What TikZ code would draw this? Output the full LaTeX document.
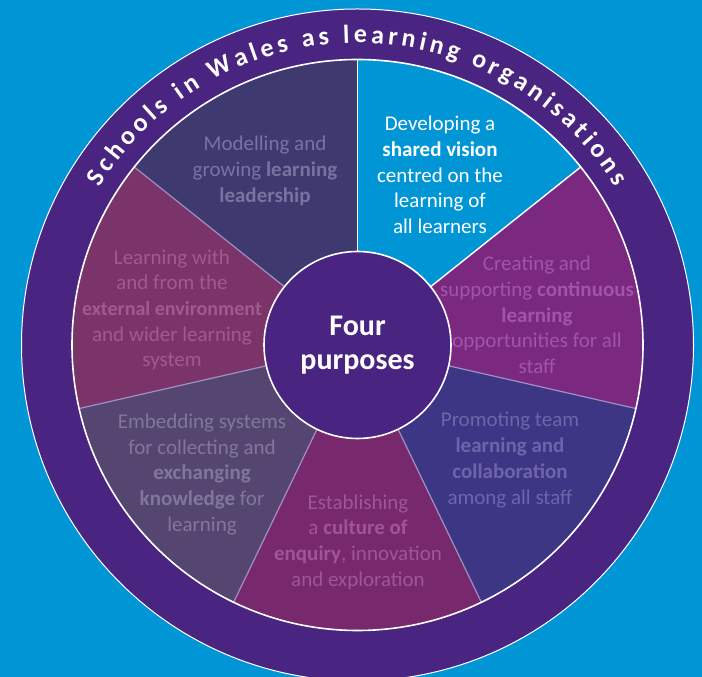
\documentclass[tikz,border=0pt]{standalone}
\usepackage{fontspec}
\setmainfont{Carlito}
\usetikzlibrary{decorations.text}
\definecolor{walesblue}{HTML}{0096D6}
\definecolor{ringpurple}{HTML}{492480}
\definecolor{sectmodel}{HTML}{3E396E}
\definecolor{sectext}{HTML}{7A3469}
\definecolor{sectknow}{HTML}{544670}
\definecolor{sectenq}{HTML}{78286C}
\definecolor{sectteam}{HTML}{3C3684}
\definecolor{sectcontin}{HTML}{7B2880}
\definecolor{txtmodel}{HTML}{7873A0}
\definecolor{txtext}{HTML}{A05A8C}
\definecolor{txtknow}{HTML}{82769B}
\definecolor{txtenq}{HTML}{A05596}
\definecolor{txtteam}{HTML}{6E64AA}
\definecolor{txtcontin}{HTML}{A055AA}
\definecolor{linelav}{HTML}{A08FC4}
\begin{document}
\begin{tikzpicture}[x=1pt,y=1pt,
    wedgetext/.style={align=center, font=\fontsize{21}{25.7}\selectfont},
    divider/.style={draw=linelav, line width=1.2pt},
    hub/.style={circle, fill=ringpurple, draw=white, line width=1.6pt, minimum size=187, inner sep=0pt, text=white, align=center, font=\bfseries\fontsize{30}{34}\selectfont}]
    \useasboundingbox (0,0) rectangle (702,677);
    \fill[walesblue] (0,0) rectangle (702,677);
    \coordinate (C) at (357.5,332);
    %% outer ring
    \fill[ringpurple] (C) circle[radius=336];
    \draw[white, line width=1pt] (C) circle[radius=336];
    %% seven sectors
    \foreach \a/\c in {38.57/walesblue, 90/sectmodel, 141.43/sectext, 192.86/sectknow, 244.29/sectenq, 295.71/sectteam, 347.14/sectcontin}
        \fill[\c, shift={(C)}] (0,0) -- (\a:285.5) arc[start angle=\a, delta angle=51.43, radius=285.5] -- cycle;
    %% dividers
    \foreach \a in {141.43, 192.86, 244.29, 295.71, 347.14}
        \draw[divider, shift={(C)}] (\a:93) -- (\a:285.5);
    \draw[white, line width=1.4pt, shift={(C)}] (90:93) -- (90:285.5);
    \draw[white, line width=1.4pt, shift={(C)}] (38.57:93) -- (38.57:285.5);
    \draw[white, line width=1.6pt] (C) circle[radius=285.5];
    %% title along the ring
    \path[shift={(C)}, decorate, decoration={text along path, text align={fit to path},
        text={|\bfseries\fontsize{26}{26}\selectfont\color{white}|Schools in Wales as learning organisations}}]
        (148.5:302) arc[start angle=148.5, end angle=31.5, radius=302];
    %% hub
    \node[hub] (purposes) at (C) {Four\\purposes};
    %% sector texts
    \node[wedgetext, text=white] (vision) at (440,502) {Developing a\\\textbf{shared vision}\\centred on the\\learning of\\all learners};
    \node[wedgetext, text=txtmodel] (leader) at (265,506) {Modelling and\\growing \textbf{learning}\\\textbf{leadership}};
    \node[wedgetext, text=txtext] (extern) at (172,367) {Learning with\\and from the\\{\fontsize{20}{25.7}\selectfont\textbf{external environment}}\\and wider learning\\system};
    \node[wedgetext, text=txtknow] (knowl) at (202,202.5) {Embedding systems\\for collecting and\\\textbf{exchanging}\\\textbf{knowledge} for\\learning};
    \node[wedgetext, text=txtenq] (enquiry) at (358,135) {Establishing\\a \textbf{culture of}\\\textbf{enquiry}, innovation\\and exploration};
    \node[wedgetext, text=txtteam] (team) at (510,217) {Promoting team\\\textbf{learning and}\\\textbf{collaboration}\\among all staff};
    \node[wedgetext, text=txtcontin] (contin) at (537,362) {Creating and\\supporting \textbf{continuous}\\\textbf{learning}\\opportunities for all\\staff};
\end{tikzpicture}
\end{document}
